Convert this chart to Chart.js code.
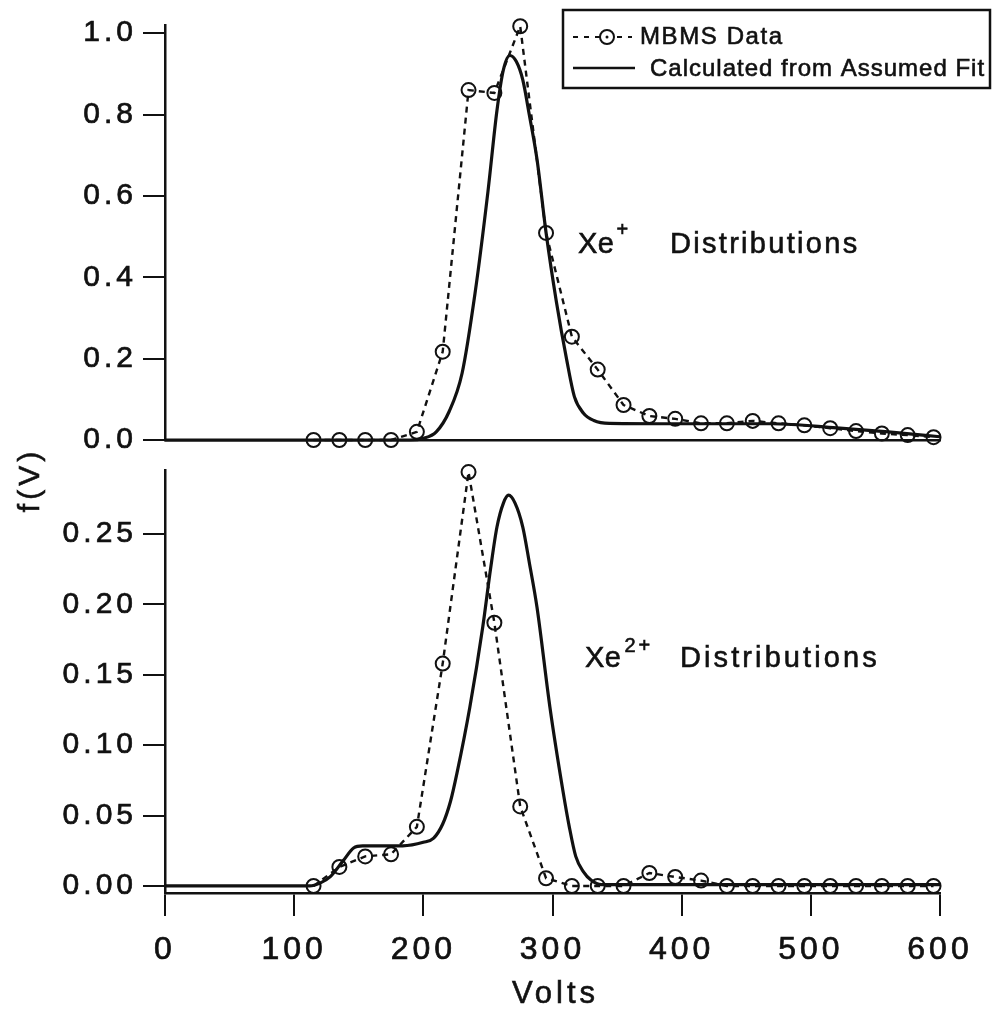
<!DOCTYPE html>
<html>
<head>
<meta charset="utf-8">
<script src="https://cdn.jsdelivr.net/npm/chart.js@4.4.1/dist/chart.umd.min.js"></script>
<style>
    body { margin: 0; background: #fff; }
    #wrap { position: relative; width: 992px; height: 1015px; }
    canvas { position: absolute; left: 0; top: 0; }
</style>
</head>
<body>
<div id="wrap">
    <canvas id="topChart" width="992" height="1015"></canvas>
    <canvas id="bottomChart" width="992" height="1015"></canvas>
</div>
<script>
// measured MBMS points, same voltages in both panels
const dataVolts = [115, 135, 155, 175, 195, 215, 235, 255, 275, 295, 315, 335, 355,
                   375, 395, 415, 435, 455, 475, 495, 515, 535, 555, 575, 595];
const xePlusData = [0, 0, 0, 0, 0.02, 0.217, 0.86, 0.853, 1.017, 0.509, 0.254, 0.173, 0.086,
                    0.059, 0.052, 0.041, 0.041, 0.047, 0.041, 0.036, 0.029, 0.022, 0.016, 0.012, 0.007];
const xe2PlusData = [0, 0.0135, 0.021, 0.0225, 0.042, 0.158, 0.294, 0.187, 0.0565, 0.0055, 0, 0, 0,
                     0.0092, 0.0064, 0.0038, 0, 0, 0, 0, 0, 0, 0, 0, 0];

// fitted curves
const fitVoltsPlus = [0, 190, 200, 210, 220, 230, 240, 250, 257, 262, 267, 272, 277, 282, 288,
                      295, 303, 311, 317, 324, 332, 344, 400, 470, 520, 560, 600];
const fitPlus = [0, 0, 0.004, 0.02, 0.07, 0.164, 0.36, 0.61, 0.81, 0.91, 0.945, 0.93, 0.885, 0.80, 0.69,
                 0.51, 0.34, 0.197, 0.106, 0.066, 0.048, 0.041, 0.04, 0.04, 0.03, 0.02, 0.008];
const fitVolts2Plus = [0, 112, 120, 128, 138, 146, 153, 184, 200, 208, 215, 221, 226, 236, 246, 252,
                       257, 262, 266, 271, 277, 282, 288, 298, 308, 313, 318, 324, 330, 338, 600];
const fit2Plus = [0, 0, 0.002, 0.0066, 0.018, 0.027, 0.0285, 0.0285, 0.031, 0.034, 0.044, 0.06, 0.08, 0.127, 0.184, 0.225,
                  0.255, 0.272, 0.2776, 0.272, 0.255, 0.23, 0.198, 0.127, 0.068, 0.042, 0.021, 0.01, 0.004, 0.001, 0.001];

const xTicks = [0, 100, 200, 300, 400, 500, 600];
const legendLabels = ['MBMS Data', 'Calculated from Assumed Fit'];

const INK = '#111';
const FONT = '"Liberation Sans", Arial, Helvetica, sans-serif';

const zip = (xs, ys) => xs.map((x, i) => ({ x: x, y: ys[i] }));

// both series look the same in each panel
function makeDatasets(pts, fitX, fitY) {
    return [{
        label: legendLabels[0],
        data: zip(dataVolts, pts),
        borderColor: INK,
        borderWidth: 2.4,
        borderDash: [6, 5],
        pointStyle: 'circle',
        pointRadius: 7,
        pointBorderWidth: 2,
        pointBorderColor: INK,
        pointBackgroundColor: 'rgba(0,0,0,0)',
        tension: 0,
        clip: false,
    }, {
        label: legendLabels[1],
        data: zip(fitX, fitY),
        borderColor: INK,
        borderWidth: 3.2,
        pointRadius: 0,
        cubicInterpolationMode: 'monotone',
        clip: false,
    }];
}

// a faint outline makes the labels as heavy as the scanned ones
const tickInk = { color: INK, textStrokeColor: INK, textStrokeWidth: 0.7 };

const yAxisBase = {
    grid: { drawOnChartArea: false, drawTicks: true, tickLength: 22, lineWidth: 2, color: INK },
    border: { display: true, color: INK, width: 2.5 },
    afterFit: s => { s.width = 165; },
};
const yTickFont = { family: FONT, size: 30 };

// wider letter spacing, like the labels in the figure
const spacing = {
    id: 'spacing',
    beforeDraw(chart) { chart.ctx.letterSpacing = '4px'; }
};

function spacedText(ctx, text, x, y, font, sp) {
    ctx.font = font;
    ctx.letterSpacing = sp + 'px';
    ctx.lineWidth = 0.6;
    ctx.setLineDash([]);
    ctx.fillText(text, x, y);
    ctx.strokeText(text, x, y);
    return ctx.measureText(text).width;
}

// legend box and Xe+ label
const topDecor = {
    id: 'topDecor',
    afterDraw(chart) {
        const ctx = chart.ctx;
        ctx.save();
        ctx.fillStyle = INK;
        ctx.strokeStyle = INK;

        // legend
        ctx.lineWidth = 2.5;
        ctx.strokeRect(563, 10, 427, 78);
        ctx.lineWidth = 2.2;
        ctx.setLineDash([5, 6]);
        ctx.beginPath();
        ctx.moveTo(573, 37); ctx.lineTo(632, 37);
        ctx.stroke();
        ctx.setLineDash([]);
        ctx.fillStyle = '#fff';
        ctx.beginPath();
        ctx.arc(607, 37, 7, 0, Math.PI * 2);
        ctx.fill();
        ctx.lineWidth = 2;
        ctx.stroke();
        ctx.fillStyle = INK;
        ctx.beginPath();
        ctx.arc(607, 37, 1.5, 0, Math.PI * 2);
        ctx.fill();
        ctx.lineWidth = 2.5;
        ctx.beginPath();
        ctx.moveTo(573, 68); ctx.lineTo(635, 68);
        ctx.stroke();

        ctx.textBaseline = 'middle';
        ctx.textAlign = 'left';
        spacedText(ctx, legendLabels[0], 640, 37, '24px ' + FONT, 1.6);
        spacedText(ctx, legendLabels[1], 650, 69, '24px ' + FONT, 1);

        // panel label
        ctx.textBaseline = 'alphabetic';
        const w = spacedText(ctx, 'Xe', 578, 253, '29px ' + FONT, 0.5);
        spacedText(ctx, '+', 578 + w + 2, 236, '20px ' + FONT, 0);
        spacedText(ctx, 'Distributions', 670, 253, '29px ' + FONT, 2.3);
        ctx.restore();
    }
};

// Xe2+ label, the shared f(V) title and the Volts title
const bottomDecor = {
    id: 'bottomDecor',
    afterDraw(chart) {
        const ctx = chart.ctx;
        const area = chart.chartArea;
        ctx.save();
        ctx.fillStyle = INK;
        ctx.strokeStyle = INK;
        ctx.textAlign = 'left';
        ctx.textBaseline = 'alphabetic';
        const w = spacedText(ctx, 'Xe', 585, 667, '29px ' + FONT, 0.5);
        spacedText(ctx, '2+', 585 + w + 3, 652, '20px ' + FONT, 3);
        spacedText(ctx, 'Distributions', 680, 667, '29px ' + FONT, 3.1);

        ctx.textAlign = 'center';
        ctx.textBaseline = 'middle';
        spacedText(ctx, 'Volts', (area.left + area.right) / 2 + 3, 994, '31px ' + FONT, 4);

        ctx.translate(31, 482);
        ctx.rotate(-Math.PI / 2);
        spacedText(ctx, 'f(V)', 2, 0, '30px ' + FONT, 4);
        ctx.restore();
    }
};

const common = {
    responsive: false,
    animation: false,
    events: [],
    plugins: { legend: { display: false }, tooltip: { enabled: false } },
};

// top panel: Xe+
new Chart(document.getElementById('topChart'), {
    type: 'line',
    data: { datasets: makeDatasets(xePlusData, fitVoltsPlus, fitPlus) },
    options: {
        ...common,
        layout: { padding: { left: 0, right: 52, top: 25, bottom: 575 } },
        scales: {
            x: {
                type: 'linear', min: 0, max: 600,
                ticks: { display: false },
                grid: { display: false },
                border: { display: true, color: INK, width: 2.5 },
                afterFit: s => { s.height = 0; }
            },
            y: {
                ...yAxisBase,
                min: 0, max: 1.02,
                ticks: {
                    ...tickInk,
                    stepSize: 0.2, includeBounds: false, font: yTickFont, padding: 6,
                    callback: v => v.toFixed(1)
                }
            }
        }
    },
    plugins: [spacing, topDecor]
});

// bottom panel: Xe2+
new Chart(document.getElementById('bottomChart'), {
    type: 'line',
    data: { datasets: makeDatasets(xe2PlusData, fitVolts2Plus, fit2Plus) },
    options: {
        ...common,
        layout: { padding: { left: 0, right: 52, top: 470, bottom: 0 } },
        scales: {
            x: {
                type: 'linear', min: 0, max: 600,
                afterBuildTicks: s => { s.ticks = xTicks.map(v => ({ value: v })); },
                ticks: { ...tickInk, font: { family: FONT, size: 32 }, padding: 15, maxRotation: 0 },
                grid: { drawOnChartArea: false, drawTicks: true, tickLength: 23, lineWidth: 2, color: INK },
                border: { display: true, color: INK, width: 2.5 },
                afterFit: s => { s.height = 122; }
            },
            y: {
                ...yAxisBase,
                min: -0.005, max: 0.2955,
                ticks: {
                    ...tickInk,
                    stepSize: 0.05, includeBounds: false, font: yTickFont, padding: 6,
                    callback: v => v.toFixed(2)
                }
            }
        }
    },
    plugins: [spacing, bottomDecor]
});
</script>
</body>
</html>
